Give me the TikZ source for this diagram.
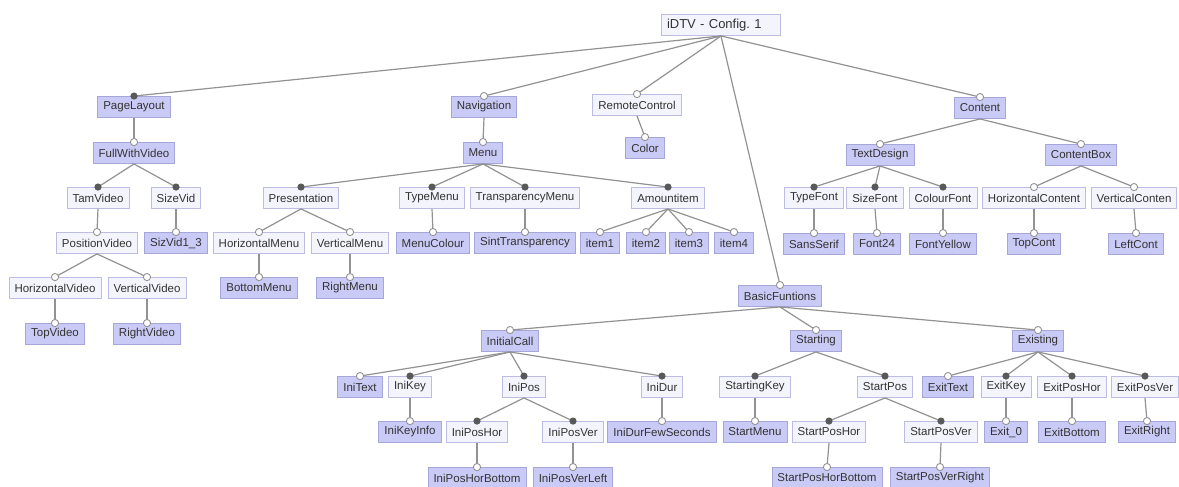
\documentclass[tikz,border=0pt]{standalone}
\usepackage{fontspec}
\setmainfont{Liberation Sans}
\usepackage{xcolor}
\definecolor{selfill}{HTML}{CACAF6}
\definecolor{selline}{HTML}{A6A6D8}
\definecolor{unsfill}{HTML}{F4F4FC}
\definecolor{unsline}{HTML}{BCBCE4}
\definecolor{edgegray}{HTML}{929292}
\definecolor{dotgray}{HTML}{595959}
\newcommand{\mandedge}[2]{\draw[edge] (#1.south) -- (#2.north); \fill[dotgray] (#2.north) circle (3.6);}
\newcommand{\optedge}[2]{\draw[edge] (#1.south) -- (#2.north); \filldraw[fill=white,draw=edgegray,line width=0.9pt] (#2.north) circle (3.6);}
\tikzset{
	feat/.style={draw,line width=0.9pt,inner xsep=5.5pt,inner ysep=0pt,minimum height=21pt,text=black!80,font=\fontsize{11.5pt}{13pt}\selectfont},
	sel/.style={feat,fill=selfill,draw=selline},
	uns/.style={feat,fill=unsfill,draw=unsline},
	edge/.style={draw=edgegray,line width=1.2pt}
}
\frenchspacing

\begin{document}
\begin{tikzpicture}[x=1pt,y=-1pt]
	\useasboundingbox[fill=white] (0,0) rectangle (1179,487);
	
	\node[uns,text width=108pt,align=left,font=\fontsize{13pt}{15pt}\selectfont] (root) at (721,25) {iDTV - Config. 1};
	
	% page layout
	\node[sel] (pagelayout) at (134,107) {PageLayout};
	\node[sel] (fullvideo) at (134,153) {FullWithVideo};
	\node[uns] (tamvideo) at (98,198) {TamVideo};
	\node[uns] (sizevid) at (176,198) {SizeVid};
	\node[uns] (positionvideo) at (97,243) {PositionVideo};
	\node[sel] (sizvid) at (176,243) {SizVid1\_3};
	\node[uns] (horizvideo) at (55,288) {HorizontalVideo};
	\node[uns] (vertvideo) at (147,288) {VerticalVideo};
	\node[sel] (topvideo) at (55,334) {TopVideo};
	\node[sel] (rightvideo) at (147,334) {RightVideo};
	
	% navigation
	\node[sel] (navigation) at (484,107) {Navigation};
	\node[sel] (menu) at (483,153) {Menu};
	\node[uns] (presentation) at (301,198) {Presentation};
	\node[uns] (typemenu) at (432,198) {TypeMenu};
	\node[uns] (transpmenu) at (525,198) {TransparencyMenu};
	\node[uns] (amountitem) at (668,198) {Amountitem};
	\node[uns] (horizmenu) at (259,243) {HorizontalMenu};
	\node[uns] (vertmenu) at (350,243) {VerticalMenu};
	\node[sel] (bottommenu) at (259,288) {BottomMenu};
	\node[sel] (rightmenu) at (350,288) {RightMenu};
	\node[sel] (menucolour) at (433,243) {MenuColour};
	\node[sel] (sinttransp) at (525,243) {SintTransparency};
	\node[sel] (itemA) at (600,243) {item1};
	\node[sel] (itemB) at (646,243) {item2};
	\node[sel] (itemC) at (689,243) {item3};
	\node[sel] (itemD) at (734,243) {item4};
	
	% remote control
	\node[uns] (remote) at (637,105) {RemoteControl};
	\node[sel] (color) at (645,148) {Color};
	
	% content
	\node[sel] (content) at (980,108) {Content};
	\node[sel] (textdesign) at (880,155) {TextDesign};
	\node[sel] (contentbox) at (1081,155) {ContentBox};
	\node[uns] (typefont) at (814,198) {TypeFont};
	\node[uns] (sizefont) at (875,198) {SizeFont};
	\node[uns] (colourfont) at (943,198) {ColourFont};
	\node[uns] (horizcont) at (1034,198) {HorizontalContent};
	\node[uns] (vertcont) at (1134,198) {VerticalConten};
	\node[sel] (sansserif) at (814,244) {SansSerif};
	\node[sel] (fontsize) at (877,244) {Font24};
	\node[sel] (fontyellow) at (943,244) {FontYellow};
	\node[sel] (topcont) at (1034,244) {TopCont};
	\node[sel] (leftcont) at (1136,244) {LeftCont};
	
	% basic functions
	\node[sel] (basic) at (780,296) {BasicFuntions};
	\node[sel] (initialcall) at (510,341) {InitialCall};
	\node[sel] (starting) at (816,341) {Starting};
	\node[sel] (existing) at (1038,341) {Existing};
	
	\node[sel] (initext) at (360,387) {IniText};
	\node[uns] (inikey) at (410,387) {IniKey};
	\node[uns] (inipos) at (524,387) {IniPos};
	\node[uns] (inidur) at (662,387) {IniDur};
	\node[sel] (inikeyinfo) at (410,432) {IniKeyInfo};
	\node[uns] (iniposhor) at (477,432) {IniPosHor};
	\node[uns] (iniposver) at (573,432) {IniPosVer};
	\node[sel] (inidurfew) at (662,432) {IniDurFewSeconds};
	\node[sel] (iniposhorbot) at (477,478) {IniPosHorBottom};
	\node[sel] (iniposverleft) at (573,478) {IniPosVerLeft};
	
	\node[uns] (startingkey) at (755,387) {StartingKey};
	\node[uns] (startpos) at (885,387) {StartPos};
	\node[sel] (startmenu) at (755,432) {StartMenu};
	\node[uns] (startposhor) at (829,432) {StartPosHor};
	\node[uns] (startposver) at (941,432) {StartPosVer};
	\node[sel] (startposhorbot) at (827,478) {StartPosHorBottom};
	\node[sel] (startposverright) at (940,478) {StartPosVerRight};
	
	\node[sel] (exittext) at (948,387) {ExitText};
	\node[uns] (exitkey) at (1006,387) {ExitKey};
	\node[uns] (exitposhor) at (1072,387) {ExitPosHor};
	\node[uns] (exitposver) at (1145,387) {ExitPosVer};
	\node[sel] (exitzero) at (1006,432) {Exit\_0};
	\node[sel] (exitbottom) at (1072,432) {ExitBottom};
	\node[sel] (exitright) at (1147,432) {ExitRight};
	
	% edges
	\mandedge{root}{pagelayout}
	\optedge{root}{navigation}
	\optedge{root}{remote}
	\optedge{root}{content}
	\optedge{root}{basic}
	
	\optedge{pagelayout}{fullvideo}
	\mandedge{fullvideo}{tamvideo}
	\mandedge{fullvideo}{sizevid}
	\optedge{tamvideo}{positionvideo}
	\optedge{sizevid}{sizvid}
	\optedge{positionvideo}{horizvideo}
	\optedge{positionvideo}{vertvideo}
	\optedge{horizvideo}{topvideo}
	\optedge{vertvideo}{rightvideo}
	
	\optedge{navigation}{menu}
	\mandedge{menu}{presentation}
	\mandedge{menu}{typemenu}
	\mandedge{menu}{transpmenu}
	\mandedge{menu}{amountitem}
	\optedge{presentation}{horizmenu}
	\optedge{presentation}{vertmenu}
	\optedge{horizmenu}{bottommenu}
	\optedge{vertmenu}{rightmenu}
	\optedge{typemenu}{menucolour}
	\optedge{transpmenu}{sinttransp}
	\optedge{amountitem}{itemA}
	\optedge{amountitem}{itemB}
	\optedge{amountitem}{itemC}
	\optedge{amountitem}{itemD}
	
	\optedge{remote}{color}
	
	\optedge{content}{textdesign}
	\optedge{content}{contentbox}
	\mandedge{textdesign}{typefont}
	\mandedge{textdesign}{sizefont}
	\mandedge{textdesign}{colourfont}
	\optedge{contentbox}{horizcont}
	\optedge{contentbox}{vertcont}
	\optedge{typefont}{sansserif}
	\optedge{sizefont}{fontsize}
	\optedge{colourfont}{fontyellow}
	\optedge{horizcont}{topcont}
	\optedge{vertcont}{leftcont}
	
	\optedge{basic}{initialcall}
	\optedge{basic}{starting}
	\optedge{basic}{existing}
	
	\optedge{initialcall}{initext}
	\mandedge{initialcall}{inikey}
	\mandedge{initialcall}{inipos}
	\mandedge{initialcall}{inidur}
	\optedge{inikey}{inikeyinfo}
	\mandedge{inipos}{iniposhor}
	\mandedge{inipos}{iniposver}
	\optedge{inidur}{inidurfew}
	\optedge{iniposhor}{iniposhorbot}
	\optedge{iniposver}{iniposverleft}
	
	\mandedge{starting}{startingkey}
	\mandedge{starting}{startpos}
	\optedge{startingkey}{startmenu}
	\mandedge{startpos}{startposhor}
	\mandedge{startpos}{startposver}
	\optedge{startposhor}{startposhorbot}
	\optedge{startposver}{startposverright}
	
	\optedge{existing}{exittext}
	\mandedge{existing}{exitkey}
	\mandedge{existing}{exitposhor}
	\mandedge{existing}{exitposver}
	\optedge{exitkey}{exitzero}
	\optedge{exitposhor}{exitbottom}
	\optedge{exitposver}{exitright}
\end{tikzpicture}
\end{document}
